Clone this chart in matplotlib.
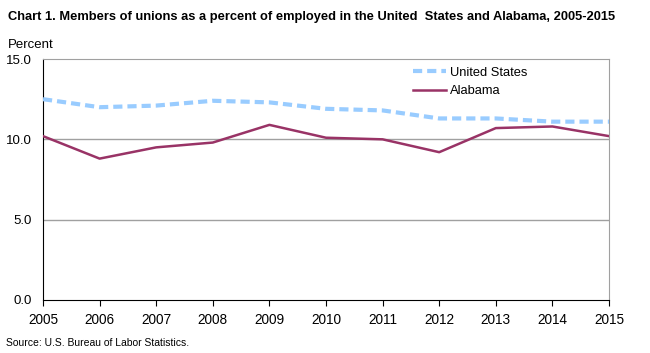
import matplotlib
matplotlib.use("Agg")
import matplotlib.pyplot as plt
from matplotlib.lines import Line2D

years = [2005, 2006, 2007, 2008, 2009, 2010, 2011, 2012, 2013, 2014, 2015]
us = [12.5, 12.0, 12.1, 12.4, 12.3, 11.9, 11.8, 11.3, 11.3, 11.1, 11.1]
alabama = [10.2, 8.8, 9.5, 9.8, 10.9, 10.1, 10.0, 9.2, 10.7, 10.8, 10.2]
yticks = [0.0, 5.0, 10.0, 15.0]
ytick_labels = ["0.0", "5.0", "10.0", "15.0"]

plt.rcParams['font.family'] = ['Liberation Sans', 'DejaVu Sans']

fig = plt.figure(figsize=(6.5, 3.53), dpi=100)
ax = fig.add_axes([43/650, 1-300/353, (609-43)/650, (300-59)/353])

us_color = "#99CCFF"
al_color = "#993366"

for y in [5.0, 10.0]:
    ax.axhline(y, color="#a0a0a0", lw=1.0, zorder=1)

ax.plot(years, us, color=us_color, lw=3, ls=(0, (2.2, 1.2)), zorder=3)
ax.plot(years, alabama, color=al_color, lw=1.8, zorder=4)

ax.set_xlim(2005, 2015)
ax.set_ylim(0, 15)
ax.set_xticks(years)
ax.set_xticklabels([str(y) for y in years], fontsize=9.8)
ax.set_yticks(yticks)
ax.set_yticklabels(ytick_labels, fontsize=9.5)
ax.tick_params(axis='y', length=0, pad=8)
ax.tick_params(axis='x', length=4, direction='out', color='black', pad=5)

ax.spines['left'].set_color('black')
ax.spines['bottom'].set_color('black')
ax.spines['top'].set_color('#a0a0a0')
ax.spines['right'].set_color('#a0a0a0')

handles = [Line2D([], [], color=us_color, lw=3, ls=(0, (2.2, 1.2))),
           Line2D([], [], color=al_color, lw=1.8)]
leg = ax.legend(handles, ["United States", "Alabama"], loc='upper left',
                bbox_to_anchor=((405-43)/566, 1.0), frameon=False, fontsize=9.3,
                handlelength=2.6, handletextpad=0.3, labelspacing=0.5,
                borderaxespad=0.2)

fig.text(8/650, 1-17/353, "Chart 1. Members of unions as a percent of employed in the United  States and Alabama, 2005-2015",
         fontsize=9.3, fontweight='bold', va='center', ha='left')
fig.text(8/650, 1-45/353, "Percent", fontsize=9.5, va='center', ha='left')
fig.text(6/650, 1-343/353, "Source: U.S. Bureau of Labor Statistics.", fontsize=7.5, va='center', ha='left')

fig.savefig("out.png", dpi=100)
